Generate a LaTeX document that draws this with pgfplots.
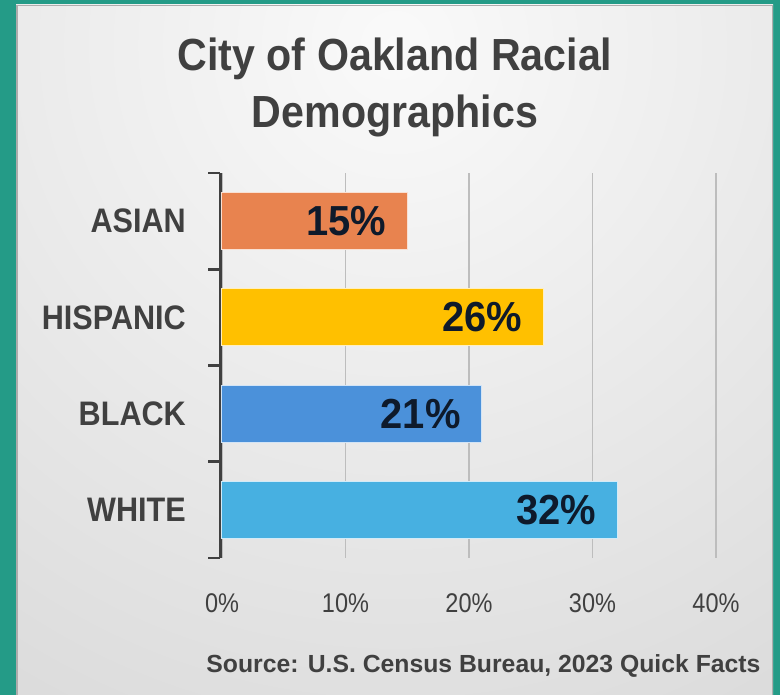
\documentclass[border=0pt]{standalone}
\usepackage{pgfplots}
\pgfplotsset{compat=1.18}
\usepackage{fontspec}
\setmainfont{Liberation Sans}

\definecolor{framec}{HTML}{249B87}
\definecolor{titlec}{HTML}{404040}
\definecolor{gridc}{HTML}{BDBDBD}
\definecolor{labelc}{HTML}{0E1A2B}
\definecolor{asianc}{HTML}{E8834F}
\definecolor{hispc}{HTML}{FFC000}
\definecolor{blackc}{HTML}{4B91DA}
\definecolor{whitec}{HTML}{47B0E1}

\begin{document}
\begin{tikzpicture}[x=1pt,y=1pt]
\useasboundingbox (0,0) rectangle (780,695);
\fill[framec] (0,0) rectangle (780,695);
\begin{scope}
  \clip (16,0) rectangle (773,690);
  \shade[inner color=gray!4, outer color=gray!50] (395,650) circle (1450);
\end{scope}
\draw[gray!65, line width=1.5pt] (16.75,0) -- (16.75,689.25) -- (772.25,689.25) -- (772.25,0);

\node[anchor=base, text=titlec, font=\bfseries\fontsize{45}{45}\selectfont]
  at (395,624) {\scalebox{0.915}[1]{City of Oakland Racial}};
\node[anchor=base, text=titlec, font=\bfseries\fontsize{45}{45}\selectfont]
  at (395,567) {\scalebox{0.915}[1]{Demographics}};

% xmin slightly below 0 so the thick y axis line is not covered by the bars
\begin{axis}[
  at={(220.5pt,137pt)}, anchor=south west,
  scale only axis, width=495.5pt, height=385pt,
  xmin=-0.12, xmax=40, ymin=-0.5, ymax=3.5,
  xbar, bar width=57pt, bar shift=0pt,
  axis y line*=left, axis x line*=bottom,
  x axis line style={draw=none},
  y axis line style={line width=2.8pt, draw=titlec},
  every inner y axis line/.append style={line width=2.8pt},
  every outer y axis line/.append style={line width=2.8pt},
  tick style={line width=2.8pt, draw=titlec},
  xtick={0,10,20,30,40},
  xticklabels={\scalebox{0.87}[1]{0\%},\scalebox{0.87}[1]{10\%},\scalebox{0.87}[1]{20\%},\scalebox{0.87}[1]{30\%},\scalebox{0.87}[1]{40\%}},
  xtick style={draw=none},
  xticklabel style={anchor=north, inner sep=0pt, yshift=-35pt, text=titlec,
    font=\fontsize{27}{27}\selectfont},
  ytick={0,1,2,3},
  yticklabels={\scalebox{0.9}[1]{WHITE},\scalebox{0.9}[1]{BLACK},\scalebox{0.9}[1]{HISPANIC},\scalebox{0.9}[1]{ASIAN}},
  minor ytick={-0.5,0.5,1.5,2.5,3.5},
  tick align=outside,
  major tick length=0pt, minor tick length=12pt,
  minor tick style={line width=2.8pt, draw=titlec},
  yticklabel style={anchor=east, inner sep=0pt, xshift=-34.5pt, text=titlec,
    font=\bfseries\fontsize{34}{34}\selectfont},
  xmajorgrids, major x grid style={line width=1.2pt, draw=gridc},
  point meta=x,
  /pgf/number format/assume math mode=true,
  nodes near coords={\scalebox{0.95}[1]{\pgfmathprintnumber{\pgfplotspointmeta}\%}},
  nodes near coords style={anchor=east, xshift=-17pt, text=labelc,
    font=\bfseries\fontsize{42}{42}\selectfont},
]
\addplot[fill=whitec, draw=white!75!whitec, line width=1pt] coordinates {(32,0)};
\addplot[fill=blackc, draw=white!75!blackc, line width=1pt] coordinates {(21,1)};
\addplot[fill=hispc, draw=white!75!hispc, line width=1pt] coordinates {(26,2)};
\addplot[fill=asianc, draw=white!75!asianc, line width=1pt] coordinates {(15,3)};
\end{axis}

\node[anchor=base east, text=titlec] at (764,22)
  {\resizebox{554pt}{!}{\bfseries\fontsize{24}{24}\selectfont Source: U.S. Census Bureau, 2023 Quick Facts}};
\end{tikzpicture}
\end{document}
